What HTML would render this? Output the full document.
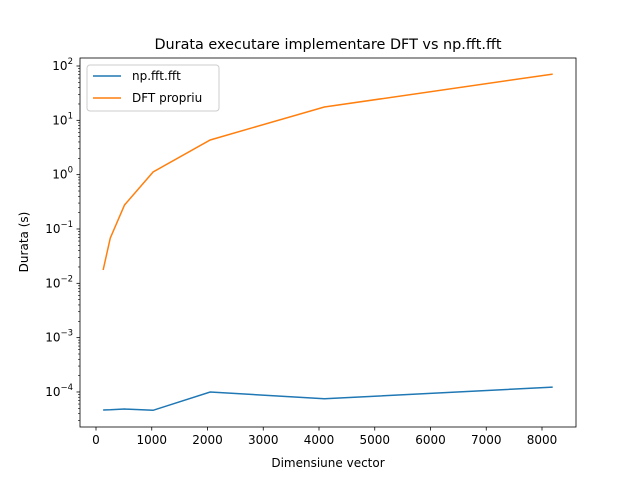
<!DOCTYPE html>
<html><head><meta charset="utf-8"><style>
body{margin:0;background:#fff;font-family:"Liberation Sans","DejaVu Sans",sans-serif}
svg text{font-family:"DejaVu Sans","Liberation Sans",sans-serif}
</style></head><body>
<svg id="c" width="640" height="480" xmlns="http://www.w3.org/2000/svg"></svg>
<script>
const xs=[128,256,512,1024,2048,4096,8192];
const fftVals=[4.67e-5,4.7e-5,4.85e-5,4.6e-5,1.0e-4,7.5e-5,1.23e-4];
const dftVals=[0.0176,0.068,0.277,1.12,4.35,17.6,71];
const xTicks=[0,1000,2000,3000,4000,5000,6000,7000,8000];
const yTicks=[-4,-3,-2,-1,0,1,2];
const L=80,R=576,T=58,B=427;
const X=v=>96+v*0.05575;
const Y=v=>66+(2-Math.log10(v))*54.33;
const svg=document.getElementById('c');
const NS='http://www.w3.org/2000/svg';
function mk(t,a,txt){const e=document.createElementNS(NS,t);for(const k in a)e.setAttribute(k,a[k]);if(txt!=null)e.textContent=txt;svg.appendChild(e);return e;}
let e;
e=mk('text',{x:328,y:49,'text-anchor':'middle','font-size':14.4},'Durata executare implementare DFT vs np.fft.fft');

xTicks.forEach(t=>{const x=X(t);mk('line',{x1:x,x2:x,y1:B,y2:B+3.5,stroke:'#000','stroke-width':0.8});
e=mk('text',{x:x,y:B+17,'text-anchor':'middle','font-size':12},t);
});
for(let d=-5;d<=2;d++){for(let m=2;m<=9;m++){const v=m*Math.pow(10,d);const y=Y(v);if(y>T&&y<B)mk('line',{x1:L-2,x2:L,y1:y,y2:y,stroke:'#000','stroke-width':0.6});}}
yTicks.forEach(t=>{const y=Y(Math.pow(10,t));mk('line',{x1:L-3.5,x2:L,y1:y,y2:y,stroke:'#000','stroke-width':0.8});
e=mk('text',{x:L-7,y:y+4,'text-anchor':'end','font-size':12});

e.appendChild(document.createTextNode('10'));const s=document.createElementNS(NS,'tspan');s.setAttribute('dy',-6);s.setAttribute('font-size',8.5);s.textContent=String(t).replace('-','\u2212');e.appendChild(s);});
function line(vals,col,name){e=mk('polyline',{points:xs.map((x,i)=>X(x)+','+Y(vals[i])).join(' '),fill:'none',stroke:col,'stroke-width':1.5});
}
line(fftVals,'#1f77b4','series-np-fft');
line(dftVals,'#ff7f0e','series-dft-propriu');
e=mk('rect',{x:L,y:T,width:R-L,height:B-T,fill:'none',stroke:'#000','stroke-width':0.8});

e=mk('text',{x:328,y:467,'text-anchor':'middle','font-size':12},'Dimensiune vector');

e=mk('text',{x:28,y:242,'text-anchor':'middle','font-size':12,transform:'rotate(-90 28 242)'},'Durata (s)');

e=mk('rect',{x:87,y:65,width:132,height:46,fill:'#fff',stroke:'#ccc',rx:3});

mk('line',{x1:93,x2:121,y1:76,y2:76,stroke:'#1f77b4','stroke-width':1.5});
e=mk('text',{x:132,y:80,'font-size':12},'np.fft.fft');

mk('line',{x1:93,x2:121,y1:98,y2:98,stroke:'#ff7f0e','stroke-width':1.5});
e=mk('text',{x:132,y:102,'font-size':12},'DFT propriu');

</script>
</body></html>
